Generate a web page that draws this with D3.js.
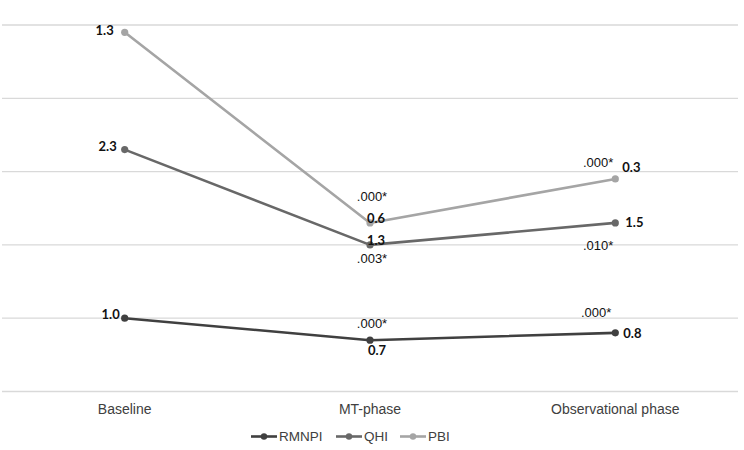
<!DOCTYPE html>
<html>
<head>
<meta charset="utf-8">
<script src="https://cdn.jsdelivr.net/npm/d3@7"></script>
<style>
  body { margin: 0; background: #fff; }
  svg { display: block; }
</style>
</head>
<body>
<div id="chart"></div>
<script>
// ── Données ────────────────────────────────────────────────────────────────
const phases = ['Baseline', 'MT-phase', 'Observational phase'];
const seriesNames = ['RMNPI', 'QHI', 'PBI'];
const seriesColors = ['#404040', '#686868', '#a5a5a5'];

// positions tracées (échelle de grille 0–5)
const rmnpiPlot = [1.0, 0.7, 0.8];
const qhiPlot   = [3.3, 2.0, 2.3];
const pbiPlot   = [4.9, 2.3, 2.9];

// étiquettes de valeurs affichées
const rmnpiLabels = ['1.0', '0.7', '0.8'];
const qhiLabels   = ['2.3', '1.3', '1.5'];
const pbiLabels   = ['1.3', '0.6', '0.3'];

// p-valeurs (null = pas d'étiquette)
const rmnpiP = [null, '.000*', '.000*'];
const qhiP   = [null, '.003*', '.010*'];
const pbiP   = [null, '.000*', '.000*'];

const yTicks = [0, 1, 2, 3, 4, 5];

// ── Layout ─────────────────────────────────────────────────────────────────
const W = 744, H = 450;
const svg = d3.select('#chart').append('svg').attr('width', W).attr('height', H);

const x = d3.scalePoint().domain(phases).range([124.7, 615.3]);
const y = d3.scaleLinear().domain([0, 5]).range([391.5, 25]);

// grille
svg.append('g').selectAll('line')
  .data(yTicks)
  .join('line')
  .attr('x1', 2).attr('x2', 738)
  .attr('y1', d => y(d)).attr('y2', d => y(d))
  .attr('stroke', '#d9d9d9')
  .attr('stroke-width', 1.3);

// axe x (texte seulement)
svg.append('g').selectAll('text')
  .data(phases)
  .join('text')
  .attr('x', d => x(d))
  .attr('y', 414)
  .attr('text-anchor', 'middle')
  .style('font-family', '"Liberation Sans", Arial, sans-serif')
  .style('font-size', '14px')
  .style('fill', '#404040')
  .text(d => d);

const series = [
  { name: 'RMNPI', plot: rmnpiPlot, labels: rmnpiLabels, p: rmnpiP, color: seriesColors[0] },
  { name: 'QHI',   plot: qhiPlot,   labels: qhiLabels,   p: qhiP,   color: seriesColors[1] },
  { name: 'PBI',   plot: pbiPlot,   labels: pbiLabels,   p: pbiP,   color: seriesColors[2] },
];

const line = d3.line().x((d, i) => x(phases[i])).y(d => y(d));

// lignes + points
for (const s of series) {
  svg.append('path')
    .datum(s.plot)
    .attr('d', line)
    .attr('fill', 'none')
    .attr('stroke', s.color)
    .attr('stroke-width', 2.6)
    .attr('stroke-linejoin', 'round');
  svg.append('g').selectAll('circle')
    .data(s.plot)
    .join('circle')
    .attr('cx', (d, i) => x(phases[i]))
    .attr('cy', d => y(d))
    .attr('r', 3.6)
    .attr('fill', s.color);
}

// ── Étiquettes ─────────────────────────────────────────────────────────────
// décalages (dx, dy, ancre) par série et par phase
const valueOffsets = {
  RMNPI: [[-5, -4, 'end'], [7, 10, 'middle'], [8, 1, 'start']],
  QHI:   [[-8, -3, 'end'], [6, -4, 'middle'], [10, 0, 'start']],
  PBI:   [[-11, -2, 'end'], [6, -4, 'middle'], [7, -11, 'start']],
};
const pOffsets = {
  RMNPI: [null, [2, -17, 'middle'], [-4, -20, 'end']],
  QHI:   [null, [2, 14, 'middle'], [-2, 23, 'end']],
  PBI:   [null, [2, -26, 'middle'], [-2, -16, 'end']],
};

const labelG = svg.append('g');
for (const s of series) {
  s.plot.forEach((v, i) => {
    const [dx, dy, anchor] = valueOffsets[s.name][i];
    labelG.append('text')
      .attr('x', x(phases[i]) + dx)
      .attr('y', y(v) + dy)
      .attr('dy', '0.35em')
      .attr('text-anchor', anchor)
      .style('font-family', 'Lato, "Open Sans", sans-serif')
      .style('font-weight', '700')
      .style('font-size', '13px')
      .style('fill', '#111')
      .text(s.labels[i]);
    if (s.p[i]) {
      const [pdx, pdy, panchor] = pOffsets[s.name][i];
      labelG.append('text')
        .attr('x', x(phases[i]) + pdx)
        .attr('y', y(v) + pdy)
        .attr('dy', '0.35em')
        .attr('text-anchor', panchor)
        .style('font-family', '"Liberation Sans", Arial, sans-serif')
        .style('font-size', '13px')
        .style('fill', '#111')
        .text(s.p[i]);
    }
  });
}

// ── Légende ────────────────────────────────────────────────────────────────
const legendX = [251, 336, 400];
const legend = svg.append('g').selectAll('g')
  .data(series)
  .join('g')
  .attr('transform', (d, i) => `translate(${legendX[i]},436.5)`);
legend.append('line')
  .attr('x1', 0).attr('x2', 26)
  .attr('stroke', d => d.color).attr('stroke-width', 2.6);
legend.append('circle')
  .attr('cx', 13).attr('r', 3.2).attr('fill', d => d.color);
legend.append('text')
  .attr('x', 28).attr('dy', '0.35em')
  .style('font-family', '"Liberation Sans", Arial, sans-serif')
  .style('font-size', '13.5px')
  .style('fill', '#404040')
  .text(d => d.name);
</script>
</body>
</html>
